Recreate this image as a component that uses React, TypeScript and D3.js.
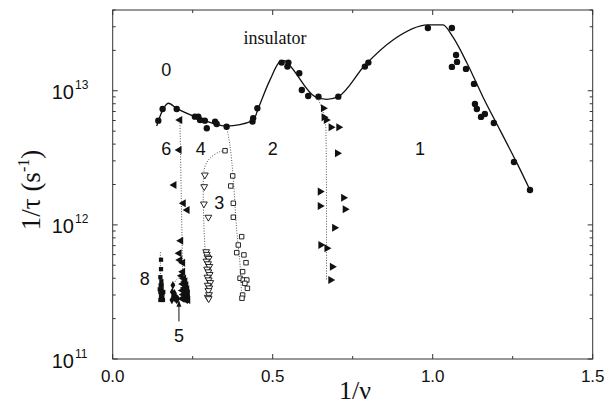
import React from "react";
import * as d3 from "d3";

const W = 614;
const H = 406;
const M = { left: 112.7, right: 592.7, top: 10, bottom: 359 };

const xTickValues = [0, 0.5, 1.0, 1.5];
const xTickLabels = ["0.0", "0.5", "1.0", "1.5"];
const yDecades = [11, 12, 13];

// every point: [1/nu, log10(1/tau)]
const solidCurve: [number, number][] = [
  [0.1375, 12.737], [0.155, 12.85], [0.174, 12.907], [0.2, 12.869], [0.2625, 12.802],
  [0.356, 12.737], [0.439, 12.777], [0.455, 12.87], [0.4916, 13.081], [0.523, 13.217],
  [0.537, 13.225], [0.549, 13.2], [0.632, 12.956], [0.669, 12.936], [0.705, 12.956],
  [0.788, 13.19], [0.876, 13.379], [0.985, 13.491], [1.032, 13.491], [1.063, 13.401],
  [1.107, 13.207], [1.157, 12.954], [1.21, 12.708], [1.263, 12.462], [1.304, 12.26],
];

const insulatorDots: [number, number][] = [
  [0.1425, 12.777], [0.156, 12.864], [0.2, 12.864], [0.257, 12.807], [0.2675, 12.807],
  [0.273, 12.782], [0.288, 12.777], [0.294, 12.72], [0.32, 12.77], [0.325, 12.752],
  [0.356, 12.732], [0.437, 12.77], [0.439, 12.795], [0.452, 12.87],
  [0.528, 13.21], [0.549, 13.21], [0.546, 13.18], [0.583, 13.13], [0.591, 13.006],
  [0.611, 12.961], [0.643, 12.956], [0.705, 12.956], [0.788, 13.18], [0.799, 13.21],
  [0.985, 13.468], [1.06, 13.468], [1.073, 13.267], [1.076, 13.215], [1.06, 13.178],
  [1.104, 13.163], [1.129, 13.051], [1.132, 12.902], [1.138, 12.864], [1.151, 12.805],
  [1.163, 12.827], [1.191, 12.76], [1.254, 12.469], [1.304, 12.26],
];

const series1: [number, number][] = [
  [0.658, 12.87], [0.66, 12.802], [0.667, 12.782], [0.682, 12.728], [0.706, 12.728],
  [0.702, 12.534], [0.648, 12.248], [0.721, 12.203], [0.648, 12.141], [0.726, 12.116],
  [0.693, 11.979], [0.65, 11.85], [0.669, 11.826], [0.686, 11.688], [0.681, 11.589],
];
const series1Line: [number, number][] = [
  [0.64, 12.95], [0.655, 12.86], [0.664, 12.78], [0.667, 12.6], [0.668, 11.59],
];

const series6: [number, number][] = [
  [0.21, 12.782], [0.208, 12.559], [0.192, 12.298], [0.221, 12.161], [0.233, 12.111],
  [0.213, 11.882], [0.208, 11.788], [0.21, 11.738], [0.219, 11.718], [0.219, 11.651],
  [0.215, 11.62], [0.222, 11.6], [0.226, 11.58], [0.219, 11.56], [0.229, 11.55],
  [0.224, 11.53], [0.232, 11.52], [0.218, 11.51], [0.227, 11.5], [0.234, 11.49],
  [0.221, 11.48], [0.23, 11.47], [0.225, 11.46], [0.233, 11.45], [0.217, 11.45],
  [0.228, 11.44], [0.235, 11.44],
];
const series6Line: [number, number][] = [[0.21, 12.8], [0.22, 11.44]];

const series4: [number, number][] = [
  [0.288, 12.372], [0.286, 12.285], [0.285, 12.156], [0.299, 12.057],
  [0.292, 11.8], [0.294, 11.78], [0.296, 11.76], [0.3, 11.75], [0.293, 11.73],
  [0.298, 11.71], [0.302, 11.69], [0.295, 11.67], [0.299, 11.65], [0.303, 11.63],
  [0.296, 11.61], [0.3, 11.59], [0.305, 11.57], [0.297, 11.55], [0.302, 11.53],
  [0.299, 11.51], [0.301, 11.48], [0.297, 11.46], [0.3, 11.45],
];
const series4Line: [number, number][] = [
  [0.351, 12.553], [0.335, 12.546], [0.304, 12.497], [0.289, 12.44], [0.284, 12.37],
  [0.285, 12.0], [0.292, 11.7], [0.3, 11.45],
];

const series3: [number, number][] = [
  [0.351, 12.553], [0.375, 12.365], [0.369, 12.29], [0.377, 12.161], [0.377, 12.057],
  [0.403, 11.912], [0.3925, 11.85], [0.3875, 11.793], [0.41, 11.776], [0.4166, 11.718],
  [0.406, 11.651], [0.398, 11.602], [0.408, 11.589], [0.419, 11.589], [0.413, 11.564],
  [0.421, 11.527], [0.406, 11.477], [0.404, 11.453],
];
const series3Line: [number, number][] = [
  [0.356, 12.732], [0.367, 12.583], [0.377, 12.335], [0.3875, 11.96], [0.398, 11.7], [0.403, 11.45],
];

const series8: [number, number][] = [
  [0.151, 11.74], [0.151, 11.67], [0.149, 11.61], [0.152, 11.58], [0.15, 11.55],
  [0.153, 11.52], [0.149, 11.5], [0.156, 11.49], [0.151, 11.47], [0.155, 11.46],
  [0.149, 11.44], [0.157, 11.44], [0.153, 11.55], [0.147, 11.52], [0.158, 11.5],
];
const series8Line: [number, number][] = [[0.149, 11.44], [0.149, 11.8]];

const series5: [number, number][] = [
  [0.188, 11.55], [0.186, 11.5], [0.19, 11.47], [0.195, 11.45], [0.2, 11.44],
  [0.185, 11.44], [0.193, 11.49], [0.198, 11.46], [0.203, 11.45],
];
const series5Line: [number, number][] = [[0.189, 11.54], [0.2, 11.595], [0.2185, 11.614]];

const regionLabels: { text: string; x: number; v: number }[] = [
  { text: "0", x: 0.167, v: 13.155 },
  { text: "6", x: 0.167, v: 12.57 },
  { text: "4", x: 0.275, v: 12.57 },
  { text: "2", x: 0.5, v: 12.57 },
  { text: "1", x: 0.96, v: 12.57 },
  { text: "3", x: 0.333, v: 12.165 },
  { text: "8", x: 0.1, v: 11.6 },
  { text: "5", x: 0.207, v: 11.175 },
];

const SANS = "'Liberation Sans', Arial, sans-serif";
const SERIF = "'Liberation Serif', 'Times New Roman', serif";

export default function App() {
  const x = d3.scaleLinear().domain([0, 1.5]).range([M.left, M.right]);
  const y = d3.scaleLog().domain([1e11, 4e13]).range([M.bottom, M.top]);
  const px = (d: [number, number]) => x(d[0]);
  const py = (d: [number, number]) => y(Math.pow(10, d[1]));

  const solid = d3.line<[number, number]>().x(px).y(py).curve(d3.curveMonotoneX);
  const dotted = d3.line<[number, number]>().x(px).y(py).curve(d3.curveCatmullRom);

  const tri = d3.symbol().type(d3.symbolTriangle).size(28)() as string;
  const triOpen = d3.symbol().type(d3.symbolTriangle).size(20)() as string;
  const sq = d3.symbol().type(d3.symbolSquare).size(18)() as string;
  const sqOpen = d3.symbol().type(d3.symbolSquare).size(20)() as string;
  const dia = d3.symbol().type(d3.symbolDiamond).size(20)() as string;

  const xMinor = d3.range(0, 1.5001, 0.25);
  const yMinor = y.ticks();
  const isMajor = (v: number) => Math.abs(Math.log10(v) - Math.round(Math.log10(v))) < 1e-6;

  const dotLine = { fill: "none", stroke: "#555", strokeWidth: 1, strokeDasharray: "1 1.6" };

  return (
    <svg width={W} height={H} style={{ position: "absolute", left: 0, top: 0, background: "#fff" }}>
      {/* frame */}
      <rect x={M.left} y={M.top} width={M.right - M.left} height={M.bottom - M.top}
        fill="none" stroke="#333" strokeWidth={1} />

      {/* x ticks, bottom and top */}
      {xMinor.map((v) => {
        const len = Math.abs(v % 0.5) < 1e-6 ? 5 : 3;
        return (
          <g key={"xt" + v} stroke="#333" strokeWidth={1}>
            <line x1={x(v)} x2={x(v)} y1={M.bottom} y2={M.bottom - len} />
            <line x1={x(v)} x2={x(v)} y1={M.top} y2={M.top + len} />
          </g>
        );
      })}
      {/* y ticks, left and right */}
      {yMinor.map((v) => {
        const len = isMajor(v) ? 5 : 3;
        return (
          <g key={"yt" + v} stroke="#333" strokeWidth={1}>
            <line x1={M.left} x2={M.left + len} y1={y(v)} y2={y(v)} />
            <line x1={M.right} x2={M.right - len} y1={y(v)} y2={y(v)} />
          </g>
        );
      })}

      {/* tick labels */}
      {xTickValues.map((v, i) => (
        <text key={"xl" + v} x={x(v)} y={382} textAnchor="middle" fontFamily={SANS} fontSize={17} fill="#111">
          {xTickLabels[i]}
        </text>
      ))}
      {yDecades.map((e) => (
        <text key={"yl" + e} x={74} y={y(Math.pow(10, e)) + 8.5} textAnchor="end" fontFamily={SANS} fontSize={20} fill="#111">
          10
          <tspan x={75} dy={-10} fontSize={12} textAnchor="start">{e}</tspan>
        </text>
      ))}

      {/* axis titles */}
      <text x={355} y={399} textAnchor="middle" fontFamily={SERIF} fontSize={26} fill="#111">1/ν</text>
      <text transform="translate(40,190) rotate(-90)" textAnchor="middle" fontFamily={SERIF} fontSize={27} fill="#111">
        1/τ (s<tspan dy={-11} fontSize={16}>-1</tspan><tspan dy={11}>)</tspan>
      </text>

      {/* dotted boundary lines */}
      <path d={dotted(series1Line) ?? ""} {...dotLine} />
      <path d={dotted(series6Line) ?? ""} {...dotLine} />
      <path d={dotted(series4Line) ?? ""} {...dotLine} />
      <path d={dotted(series3Line) ?? ""} {...dotLine} />
      <path d={dotted(series8Line) ?? ""} {...dotLine} />
      <path d={dotted(series5Line) ?? ""} {...dotLine} />

      {/* solid line */}
      <path d={solid(solidCurve) ?? ""} fill="none" stroke="#111" strokeWidth={1.3} />

      {/* markers */}
      {insulatorDots.map((d, i) => (
        <circle key={"c" + i} cx={px(d)} cy={py(d)} r={3.2} fill="#111" />
      ))}
      {series1.map((d, i) => (
        <path key={"s1" + i} d={tri} transform={`translate(${px(d)},${py(d)}) rotate(90)`} fill="#111" />
      ))}
      {series6.map((d, i) => (
        <path key={"s6" + i} d={tri} transform={`translate(${px(d)},${py(d)}) rotate(-90)`} fill="#111" />
      ))}
      {series4.map((d, i) => (
        <path key={"s4" + i} d={triOpen} transform={`translate(${px(d)},${py(d)}) rotate(180)`} fill="#fff" stroke="#111" strokeWidth={0.9} />
      ))}
      {series3.map((d, i) => (
        <path key={"s3" + i} d={sqOpen} transform={`translate(${px(d)},${py(d)})`} fill="#fff" stroke="#111" strokeWidth={0.9} />
      ))}
      {series8.map((d, i) => (
        <path key={"s8" + i} d={sq} transform={`translate(${px(d)},${py(d)})`} fill="#111" />
      ))}
      {series5.map((d, i) => (
        <path key={"s5" + i} d={dia} transform={`translate(${px(d)},${py(d)})`} fill="#111" />
      ))}

      {/* annotations */}
      <text x={x(0.507)} y={y(Math.pow(10, 13.349))} textAnchor="middle" fontFamily={SERIF} fontSize={18} fill="#111">
        insulator
      </text>
      {regionLabels.map((l) => (
        <text key={"rl" + l.text} x={x(l.x)} y={y(Math.pow(10, l.v))} dy="0.35em" textAnchor="middle"
          fontFamily={SANS} fontSize={18} fill="#111">
          {l.text}
        </text>
      ))}
      {/* arrow pointing at group 5 */}
      <line x1={x(0.207)} x2={x(0.207)} y1={y(Math.pow(10, 11.28))} y2={y(Math.pow(10, 11.43))} stroke="#111" strokeWidth={1} />
      <path
        d={`M${x(0.207)},${y(Math.pow(10, 11.435))} l-2.5,6 l5,0 z`}
        fill="#111"
      />
    </svg>
  );
}
